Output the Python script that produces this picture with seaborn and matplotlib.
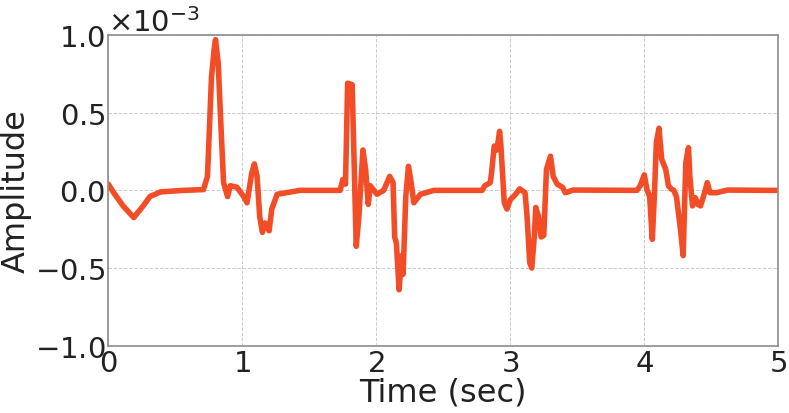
import matplotlib
matplotlib.use("Agg")
import matplotlib.pyplot as plt
import seaborn as sns
import numpy as np
import pandas as pd

# Time (sec)
time_sec = [0.00, 0.04, 0.11, 0.19, 0.26, 0.31, 0.39, 0.56, 0.71, 0.74, 0.77, 0.79, 0.80, 0.82, 0.836,
            0.86, 0.89, 0.91, 0.96, 1.01, 1.035, 1.07, 1.09, 1.11, 1.13, 1.15, 1.17, 1.20, 1.22, 1.26,
            1.33, 1.43, 1.73, 1.75, 1.77, 1.786, 1.82, 1.85, 1.87, 1.90, 1.92, 1.94, 1.955, 2.005, 2.055,
            2.10, 2.125, 2.137, 2.15, 2.17, 2.19, 2.20, 2.22, 2.24, 2.26, 2.28, 2.33, 2.43, 2.79, 2.81,
            2.85, 2.86, 2.88, 2.90, 2.92, 2.93, 2.955, 2.975, 3.00, 3.04, 3.07, 3.11, 3.125, 3.145, 3.16,
            3.18, 3.19, 3.21, 3.23, 3.25, 3.27, 3.30, 3.32, 3.35, 3.39, 3.41, 3.47, 3.945, 3.97, 4.00,
            4.02, 4.04, 4.06, 4.075, 4.09, 4.11, 4.13, 4.16, 4.18, 4.20, 4.22, 4.24, 4.27, 4.29, 4.31,
            4.33, 4.34, 4.36, 4.38, 4.40, 4.42, 4.45, 4.47, 4.49, 4.54, 4.62, 4.94, 4.99]

# Amplitude in units of 1e-3
amplitude_e3 = [0.04, -0.015, -0.10, -0.175, -0.10, -0.04, -0.01, 0.0, 0.005, 0.09, 0.73, 0.91, 0.97, 0.82, 0.50,
                0.05, -0.04, 0.03, 0.02, -0.04, -0.08, 0.11, 0.17, 0.09, -0.17, -0.27, -0.21, -0.26, -0.12, -0.025,
                -0.015, 0.0, 0.0, 0.07, 0.04, 0.69, 0.68, -0.36, -0.17, 0.26, 0.135, -0.09, 0.03, -0.025, 0.0,
                0.09, 0.05, -0.30, -0.34, -0.64, -0.42, -0.54, -0.04, 0.155, 0.05, -0.08, -0.025, 0.0, 0.0, 0.03,
                0.05, 0.11, 0.285, 0.26, 0.38, 0.285, -0.08, -0.12, -0.06, -0.025, 0.01, -0.015, -0.165, -0.465, -0.50,
                -0.29, -0.11, -0.165, -0.30, -0.29, 0.135, 0.22, 0.09, 0.04, 0.02, -0.015, 0.002, 0.0, 0.03, 0.10,
                0.005, -0.04, -0.315, -0.04, 0.31, 0.40, 0.20, 0.135, 0.03, 0.01, 0.0, -0.04, -0.25, -0.42, 0.18,
                0.275, 0.09, -0.10, -0.047, -0.09, -0.10, -0.015, 0.05, -0.015, -0.015, 0.002, 0.0, 0.0]

x_ticks = [0, 1, 2, 3, 4, 5]
y_ticks = [-1.0e-3, -0.5e-3, 0.0, 0.5e-3, 1.0e-3]

df = pd.DataFrame({"Time (sec)": time_sec,
                   "Amplitude": np.array(amplitude_e3) * 1e-3})

sns.set_style("whitegrid")
plt.rcParams["font.family"] = ["DejaVu Sans"]
plt.rcParams["axes.formatter.use_mathtext"] = True

fig = plt.figure(figsize=(7.89, 4.14), dpi=100)
ax = fig.add_axes([0.1373, 0.1625, 0.8491, 0.7505])

sns.lineplot(data=df, x="Time (sec)", y="Amplitude", ax=ax, color="#f24d26",
             linewidth=4.0, sort=False, solid_joinstyle="round", solid_capstyle="round")

ax.set_xlim(0, 5)
ax.set_ylim(-1e-3, 1e-3)
ax.set_xticks(x_ticks)
ax.set_yticks(y_ticks)
ax.ticklabel_format(axis="y", style="sci", scilimits=(0, 0), useMathText=True)
ax.yaxis.get_offset_text().set_fontsize(21)

ax.grid(True, linestyle="--", color="#cccccc", linewidth=0.7)
for s in ax.spines.values():
    s.set_color("#8c8c8c")
    s.set_linewidth(1.2)
ax.tick_params(axis="both", length=0, labelsize=21, pad=2, colors="#222222")
ax.set_xlabel("Time (sec)", fontsize=23, labelpad=0, color="#222222")
ax.set_ylabel("Amplitude", fontsize=23, labelpad=2, color="#222222")

fig.savefig("out.png", dpi=100)
